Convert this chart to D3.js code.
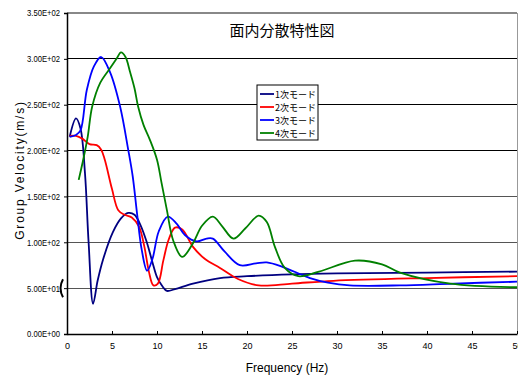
<!DOCTYPE html>
<html><head><meta charset="utf-8">
<script src="https://cdn.jsdelivr.net/npm/d3@7"></script>
<style>body{margin:0;background:#fff}svg{display:block}</style>
</head><body><svg id="c" width="518" height="377"></svg>
<script>
const title = "面内分散特性図";
const xLabel = "Frequency (Hz)";
const yLabel = "Group Velocity(m/s)";
const xTicks = [0,5,10,15,20,25,30,35,40,45,50];
const yTicks = [0,50,100,150,200,250,300,350];
const seriesNames = ["1次モード","2次モード","3次モード","4次モード"];
const seriesColors = ["#000080","#ff0000","#0000ff","#008000"];

const mode1 = [[0.3,215],[1,235],[1.5,224],[2,175],[2.4,100],[2.9,33],[3.4,58],[4,81],[5.1,111],[6,126],[6.8,132],[7.5,130],[8.2,118],[8.9,99],[9.5,78],[10,62],[10.6,52],[11.1,47],[12,49],[14,55],[17,61],[20,63],[25,65],[30,66],[40,67],[50,68]];
const mode2 = [[0.3,216],[1,216],[1.7,213],[2.5,207],[3.3,206],[3.8,201],[4.2,190],[5,158],[5.7,135],[6.4,130],[7.2,127],[8,117],[8.6,95],[9.1,68],[9.6,53],[10.1,55],[10.7,80],[11.3,103],[12,116],[12.8,114],[14,95],[15.3,82],[17,72],[19,60],[21.3,53],[25,55],[29.6,58],[40,61],[50,63]];
const mode3 = [[0.3,215],[1,217],[1.5,222],[2.2,266],[3,292],[3.8,302],[4.8,285],[5.9,248],[6.8,201],[7.3,172],[7.8,130],[8.3,92],[8.9,69],[9.5,82],[10.2,112],[11.2,128],[12.2,120],[13.1,108],[14.4,101],[15.5,104],[16.2,104],[17.5,90],[19.2,75],[21,77],[22.2,78],[24,73],[27,61],[29,56],[31.4,53],[37,53],[43,55],[50,57]];
const mode4 = [[1.3,168],[1.8,190],[2.3,215],[2.8,248],[3.7,274],[4.8,290],[5.5,300],[6,307],[6.5,302],[7,286],[7.5,268],[7.9,248],[8.5,228],[9.2,212],[10,190],[10.5,165],[11.1,135],[11.8,102],[12.8,84],[14,99],[15,118],[16.2,128],[17.2,118],[18.5,104],[19.8,115],[21.3,129],[22.2,122],[23.1,95],[24.2,72],[25.7,63],[28,68],[32,80],[35,76],[37,67],[42.6,55],[50,51]];
const modes = [mode1, mode2, mode3, mode4];

const svg = d3.select("#c");
const x = d3.scaleLinear().domain([0,50]).range([67,517]);
const y = d3.scaleLinear().domain([0,350]).range([334,13]);
const tickFont = "'Liberation Sans',Arial,sans-serif";

// gridlines
svg.append("g").selectAll("line").data(yTicks.filter(d=>d>0)).join("line")
  .attr("x1",67).attr("x2",517).attr("y1",d=>y(d)).attr("y2",d=>y(d))
  .attr("stroke",d=> d===350 ? "#888" : (d>=200 ? "#000" : "#555")).attr("stroke-width",1.2).attr("shape-rendering","crispEdges");
// right border
svg.append("line").attr("x1",517).attr("x2",517).attr("y1",13).attr("y2",334).attr("stroke","#999").attr("shape-rendering","crispEdges");

// y axis
const yAxis = d3.axisLeft(y).tickValues(yTicks).tickSize(3).tickFormat(d=>d3.format(".2e")(d).toUpperCase().replace(/E([+-])(\d)$/,"E$10$2"));
const ya = svg.append("g").attr("transform","translate(67,0)").call(yAxis);
ya.selectAll("text").attr("font-family",tickFont).attr("font-size",9).attr("fill","#000").attr("x",-7)
  .attr("textLength",33).attr("lengthAdjust","spacingAndGlyphs");
ya.select(".domain").attr("stroke","#000").attr("stroke-width",1.5);
ya.selectAll(".tick line").attr("stroke","#000");

// x axis
const xAxis = d3.axisBottom(x).tickValues(xTicks).tickSize(-3).tickSizeOuter(0).tickFormat(d3.format("d"));
const xa = svg.append("g").attr("transform","translate(0,334)").call(xAxis);
xa.selectAll("text").attr("font-family",tickFont).attr("font-size",9).attr("fill","#000").attr("y",9);
xa.select(".domain").attr("stroke","#000").attr("stroke-width",1.5);
xa.selectAll(".tick line").attr("stroke","#000");

// small bracket mark near 50 tick
svg.append("path").attr("d",`M${x(0)-4},${y(50)-9} Q${x(0)-9},${y(50)} ${x(0)-4},${y(50)+9}`)
  .attr("fill","none").attr("stroke","#000").attr("stroke-width",2);

// lines
const line = d3.line().x(d=>x(d[0])).y(d=>y(d[1])).curve(d3.curveCatmullRom.alpha(0.5));
svg.append("g").selectAll("path").data(modes).join("path")
  .attr("d",line).attr("fill","none").attr("stroke",(d,i)=>seriesColors[i]).attr("stroke-width",1.8);

// title & labels
svg.append("text").attr("x",282).attr("y",36).attr("text-anchor","middle")
  .attr("font-family","'Noto Sans CJK JP',sans-serif").attr("font-size",15).text(title);
svg.append("text").attr("x",287).attr("y",372).attr("text-anchor","middle")
  .attr("font-family","'Liberation Sans',Arial,sans-serif").attr("font-size",12).text(xLabel);
svg.append("text").attr("transform","translate(24,170) rotate(-90)").attr("text-anchor","middle")
  .attr("font-family","'Liberation Sans',Arial,sans-serif").attr("font-size",12).attr("letter-spacing",1.8).text(yLabel);

// legend
const lg = svg.append("g").attr("transform","translate(257,85)");
lg.append("rect").attr("width",61).attr("height",55).attr("fill","#fff").attr("stroke","#000");
const li = lg.selectAll("g").data(seriesNames).join("g").attr("transform",(d,i)=>`translate(0,${9+i*13})`);
li.append("line").attr("x1",3).attr("x2",17).attr("stroke",(d,i)=>seriesColors[i]).attr("stroke-width",1.8);
li.append("text").attr("x",18).attr("y",3.5).attr("font-family","'Noto Sans CJK JP',sans-serif").attr("font-size",9).text(d=>d);
</script></body></html>
